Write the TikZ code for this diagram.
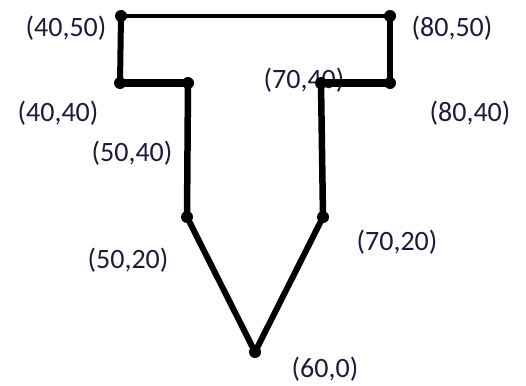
\documentclass[tikz,border=0pt]{standalone}
\usepackage{fontspec}
\setmainfont{Carlito}
\definecolor{labelcol}{RGB}{28,28,58}
\begin{document}
\begin{tikzpicture}[x=1pt,y=-1pt,
  lbl/.style={text=labelcol,font=\fontsize{28}{30}\selectfont,inner sep=0pt,anchor=center},
  seg/.style={draw=black,line cap=round,line join=round},
  dot/.style={circle,fill=black,inner sep=0pt,minimum size=12pt}]
\useasboundingbox (0,0) rectangle (526,385);
% points
\coordinate (a) at (121,16);   % (40,50)
\coordinate (b) at (390,16);   % (80,50)
\coordinate (c) at (120,83);   % (40,40)
\coordinate (d) at (188,83);   % (50,40)
\coordinate (e) at (321,83);   % (70,40)
\coordinate (f) at (390,83);   % (80,40)
\coordinate (g) at (187,217);  % (50,20)
\coordinate (h) at (323,217);  % (70,20)
\coordinate (k) at (255,352);  % (60,0)
% labels
\node[lbl] (la) at (66,28) {(40,50)};
\node[lbl] (lb) at (452,28) {(80,50)};
\node[lbl] (lc) at (58,113) {(40,40)};
\node[lbl] (ld) at (132,153) {(50,40)};
\node[lbl] (le) at (304,80) {(70,40)};
\node[lbl] (lf) at (470,113) {(80,40)};
\node[lbl] (lg) at (128,260) {(50,20)};
\node[lbl] (lh) at (397,242) {(70,20)};
\node[lbl] (lk) at (325,369) {(60,0)};
% lines
\draw[seg,line width=4pt] (a) -- (b);
\draw[seg,line width=6pt] (a) -- (c);
\draw[seg,line width=6pt] (b) -- (f);
\draw[seg,line width=8pt] (c) -- (d);
\draw[seg,line width=8pt] (e) -- (f);
\draw[seg,line width=6.5pt] (d) -- (g);
\draw[seg,line width=6.5pt] (e) -- (h);
\draw[seg,line width=6pt] (g) -- (k) -- (h);
% dots
\foreach \p in {a,b,c,d,e,f,g,h,k} \node[dot] (dot\p) at (\p) {};
\end{tikzpicture}
\end{document}
